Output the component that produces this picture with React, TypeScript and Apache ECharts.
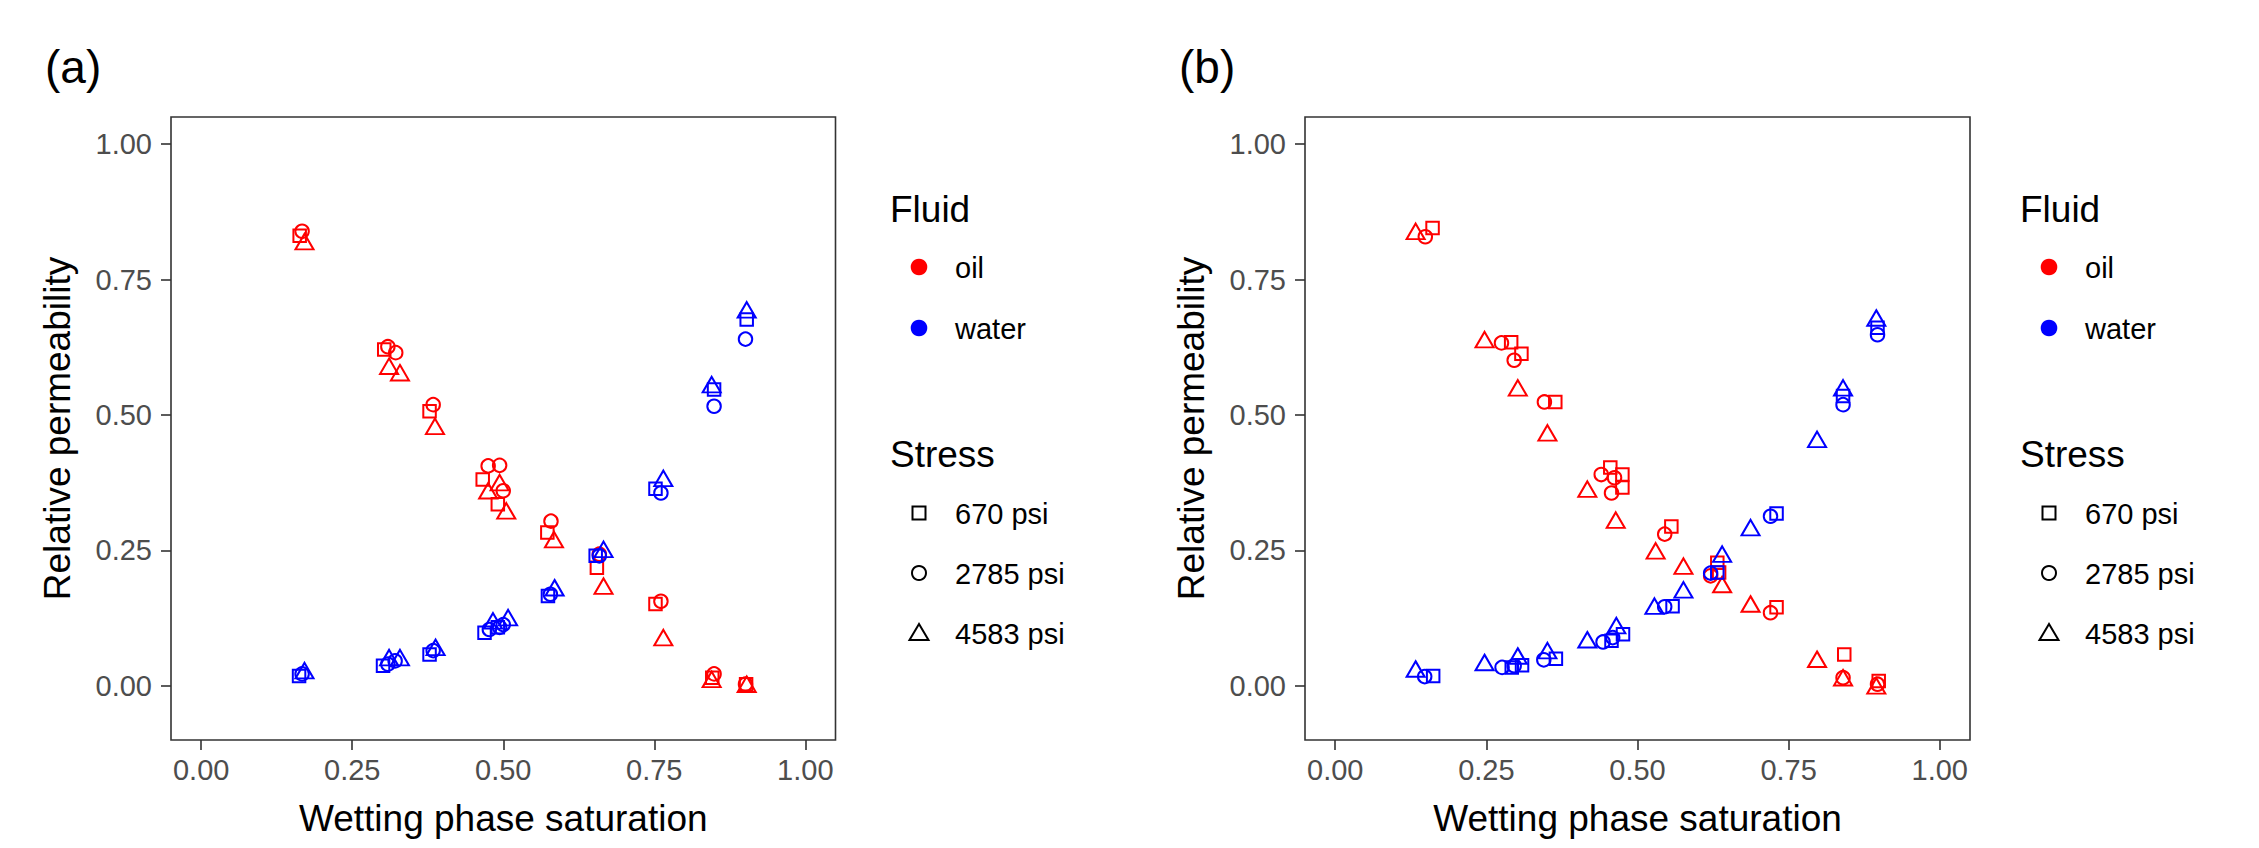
import React, { useEffect, useRef } from "react";
import * as echarts from "echarts";

// ---------- data ----------
const xTicks = [0, 0.25, 0.5, 0.75, 1];
const yTicks = [0, 0.25, 0.5, 0.75, 1];
const fluids = ["oil", "water"];
const stresses = ["670 psi", "2785 psi", "4583 psi"];
const panelLabels = ["(a)", "(b)"];

// Panel (a): [wetting phase saturation, relative permeability]
const oilA_670 = [[0.163, 0.831], [0.303, 0.621], [0.378, 0.507], [0.466, 0.381], [0.491, 0.335], [0.573, 0.283], [0.655, 0.218], [0.752, 0.151], [0.846, 0.015], [0.902, 0.003]];
const waterA_670 = [[0.162, 0.018], [0.301, 0.037], [0.378, 0.058], [0.469, 0.098], [0.491, 0.108], [0.574, 0.166], [0.653, 0.240], [0.752, 0.364], [0.849, 0.547], [0.903, 0.676]];
const oilA_2785 = [[0.167, 0.839], [0.309, 0.626], [0.322, 0.615], [0.384, 0.519], [0.475, 0.406], [0.494, 0.407], [0.500, 0.360], [0.579, 0.304], [0.659, 0.243], [0.761, 0.156], [0.849, 0.022], [0.901, 0.003]];
const waterA_2785 = [[0.167, 0.022], [0.309, 0.040], [0.321, 0.046], [0.384, 0.065], [0.477, 0.104], [0.494, 0.108], [0.500, 0.113], [0.578, 0.169], [0.659, 0.240], [0.761, 0.356], [0.849, 0.516], [0.901, 0.640]];
const oilA_4583 = [[0.171, 0.820], [0.311, 0.590], [0.329, 0.578], [0.387, 0.479], [0.475, 0.360], [0.494, 0.375], [0.505, 0.323], [0.584, 0.270], [0.666, 0.184], [0.765, 0.089], [0.845, 0.012], [0.903, 0.003]];
const waterA_4583 = [[0.171, 0.028], [0.311, 0.052], [0.329, 0.052], [0.388, 0.071], [0.483, 0.120], [0.508, 0.126], [0.585, 0.181], [0.666, 0.252], [0.765, 0.383], [0.845, 0.556], [0.903, 0.694]];

// Panel (b)
const oilB_670 = [[0.161, 0.845], [0.291, 0.634], [0.308, 0.613], [0.364, 0.524], [0.455, 0.403], [0.475, 0.390], [0.475, 0.366], [0.556, 0.294], [0.632, 0.227], [0.635, 0.209], [0.730, 0.145], [0.842, 0.058], [0.899, 0.009]];
const waterB_670 = [[0.162, 0.018], [0.292, 0.034], [0.309, 0.038], [0.365, 0.050], [0.457, 0.083], [0.476, 0.095], [0.558, 0.147], [0.632, 0.209], [0.730, 0.318], [0.840, 0.535], [0.897, 0.661]];
const oilB_2785 = [[0.149, 0.829], [0.275, 0.633], [0.296, 0.601], [0.346, 0.524], [0.440, 0.390], [0.462, 0.384], [0.457, 0.356], [0.545, 0.280], [0.621, 0.203], [0.720, 0.135], [0.840, 0.015], [0.897, 0.003]];
const waterB_2785 = [[0.148, 0.017], [0.276, 0.034], [0.296, 0.037], [0.345, 0.048], [0.443, 0.081], [0.459, 0.089], [0.545, 0.146], [0.621, 0.208], [0.720, 0.313], [0.840, 0.519], [0.897, 0.648]];
const oilB_4583 = [[0.133, 0.839], [0.247, 0.639], [0.302, 0.550], [0.351, 0.467], [0.417, 0.363], [0.464, 0.306], [0.530, 0.249], [0.576, 0.221], [0.640, 0.187], [0.687, 0.151], [0.797, 0.049], [0.840, 0.015], [0.895, 0.000]];
const waterB_4583 = [[0.133, 0.031], [0.247, 0.043], [0.302, 0.055], [0.351, 0.065], [0.417, 0.085], [0.465, 0.111], [0.528, 0.147], [0.576, 0.177], [0.640, 0.243], [0.687, 0.292], [0.797, 0.455], [0.840, 0.550], [0.895, 0.679]];

const panelData = [
  { oil: [oilA_670, oilA_2785, oilA_4583], water: [waterA_670, waterA_2785, waterA_4583] },
  { oil: [oilB_670, oilB_2785, oilB_4583], water: [waterB_670, waterB_2785, waterB_4583] },
];

// ---------- styles ----------
const FONT = "'Liberation Sans', Arial, Helvetica, sans-serif";
const fluidColors: Record<string, string> = { oil: "#FF0000", water: "#0000FF" };
const shapeSymbols = ["rect", "circle", "triangle"];
const shapeSizes: any[] = [12.5, 13.5, [18, 15.5]];

const grids = [
  { left: 171, top: 117, width: 664.5, height: 623 },
  { left: 1305, top: 117, width: 665, height: 623 },
];
const legendX = [890, 2020];

function legendElements(x0: number) {
  const els: any[] = [];
  const title = (t: string, y: number) => ({
    type: "text",
    x: x0,
    y,
    style: { text: t, fontSize: 37, fontFamily: FONT, fill: "#000", align: "left", verticalAlign: "middle" },
  });
  const label = (t: string, y: number) => ({
    type: "text",
    x: x0 + 65,
    y,
    style: { text: t, fontSize: 29, fontFamily: FONT, fill: "#000", align: "left", verticalAlign: "middle" },
  });
  const sx = x0 + 29;
  els.push(title("Fluid", 209));
  const fluidY = [267, 328];
  fluids.forEach((f, i) => {
    els.push({ type: "circle", shape: { cx: sx, cy: fluidY[i], r: 8.3 }, style: { fill: fluidColors[f] } });
    els.push(label(f, fluidY[i] + 1));
  });
  els.push(title("Stress", 454));
  const stressY = [513, 573, 633];
  const sym = { fill: "none", stroke: "#000", lineWidth: 2 };
  els.push({ type: "rect", shape: { x: sx - 6.5, y: stressY[0] - 6.5, width: 13, height: 13 }, style: sym });
  els.push({ type: "circle", shape: { cx: sx, cy: stressY[1], r: 7 }, style: sym });
  els.push({
    type: "polygon",
    shape: { points: [[sx, stressY[2] - 9], [sx - 9.5, stressY[2] + 7], [sx + 9.5, stressY[2] + 7]] },
    style: sym,
  });
  stresses.forEach((s, i) => els.push(label(s, stressY[i] + 1)));
  return els;
}

export default function App() {
  const ref = useRef<HTMLDivElement>(null);
  useEffect(() => {
    if (!ref.current) return;
    const chart = echarts.init(ref.current, null, { renderer: "svg" });

    const xAxis = grids.map((_, i) => ({
      type: "value",
      gridIndex: i,
      position: "bottom",
      min: -0.05,
      max: 1.05,
      axisLine: { show: false, onZero: false },
      splitLine: { show: false },
      axisTick: { show: true, length: 10, lineStyle: { color: "#333333", width: 1.6 }, customValues: xTicks },
      axisLabel: {
        customValues: xTicks,
        formatter: (v: number) => v.toFixed(2),
        color: "#4D4D4D",
        fontSize: 29,
        fontFamily: FONT,
        margin: 15,
      },
    }));
    const yAxis = grids.map((_, i) => ({
      type: "value",
      gridIndex: i,
      position: "left",
      min: -0.1,
      max: 1.05,
      axisLine: { show: false, onZero: false },
      splitLine: { show: false },
      axisTick: { show: true, length: 10, lineStyle: { color: "#333333", width: 1.6 }, customValues: yTicks },
      axisLabel: {
        customValues: yTicks,
        formatter: (v: number) => v.toFixed(2),
        color: "#4D4D4D",
        fontSize: 29,
        fontFamily: FONT,
        margin: 19,
      },
    }));

    const series: any[] = [];
    panelData.forEach((pd, pi) => {
      fluids.forEach((f) => {
        (pd as any)[f].forEach((pts: number[][], si: number) => {
          series.push({
            type: "scatter",
            name: `${f} ${stresses[si]}`,
            xAxisIndex: pi,
            yAxisIndex: pi,
            data: pts,
            symbol: shapeSymbols[si],
            symbolSize: shapeSizes[si],
            itemStyle: { color: "rgba(0,0,0,0)", borderColor: fluidColors[f], borderWidth: 2, opacity: 1 },
            silent: true,
          });
        });
      });
    });

    const graphic: any[] = [];
    grids.forEach((g, i) => {
      graphic.push({
        type: "text",
        x: g.left - 126,
        y: 67,
        style: { text: panelLabels[i], fontSize: 46, fontFamily: FONT, fill: "#000", align: "left", verticalAlign: "middle" },
      });
      graphic.push({
        type: "text",
        x: g.left - 114,
        y: g.top + g.height / 2,
        rotation: Math.PI / 2,
        style: {
          text: "Relative permeability",
          fontSize: 37,
          fontFamily: FONT,
          fill: "#000",
          align: "center",
          verticalAlign: "middle",
        },
      });
      graphic.push({
        type: "text",
        x: g.left + g.width / 2,
        y: 818,
        style: {
          text: "Wetting phase saturation",
          fontSize: 37,
          fontFamily: FONT,
          fill: "#000",
          align: "center",
          verticalAlign: "middle",
        },
      });
      legendElements(legendX[i]).forEach((e) => graphic.push(e));
    });

    chart.setOption({
      animation: false,
      backgroundColor: "#ffffff",
      grid: grids.map((g) => ({ ...g, show: true, borderColor: "#333333", borderWidth: 1.6, backgroundColor: "transparent" })),
      xAxis,
      yAxis,
      series,
      graphic,
    });
    return () => chart.dispose();
  }, []);
  return (
    <div
      ref={ref}
      style={{ position: "fixed", left: 0, top: 0, width: 2259, height: 848, background: "#ffffff" }}
    />
  );
}
